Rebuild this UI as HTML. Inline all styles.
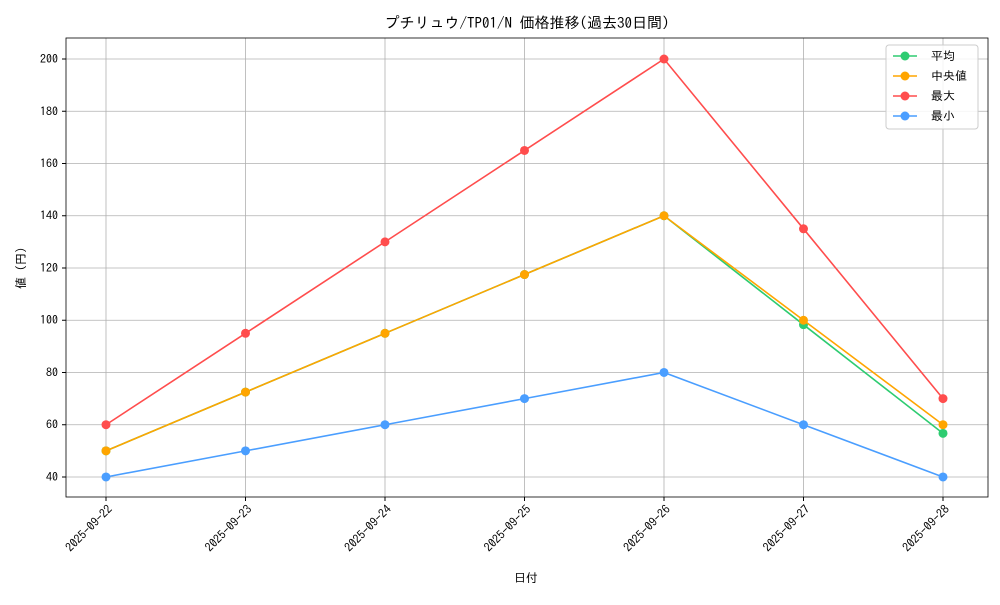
<!DOCTYPE html>
<html><head><meta charset="utf-8">
<style>
body{margin:0;background:#fff;}
svg text{font-family:"IPAGothic","Noto Sans CJK JP",sans-serif;fill:#000;}
</style></head>
<body>
<svg id="chart" width="1000" height="600" viewBox="0 0 1000 600" xmlns="http://www.w3.org/2000/svg">
<rect width="1000" height="600" fill="#fff"/>
<text x="527" y="28" font-size="15" text-anchor="middle">プチリュウ/TP01/N 価格推移(過去30日間)</text>
<g id="grid"></g>
<g id="series"></g>
<rect x="66" y="38" width="922" height="459" fill="none" stroke="#000" stroke-width="0.8"/>
<g id="ticks"></g>
<text x="526" y="582" font-size="12" text-anchor="middle">日付</text>
<text transform="translate(25,268) rotate(-90)" font-size="12" text-anchor="middle">値 (円)</text>
<g id="legend"></g>
</svg>
<script>
const categories=["2025-09-22","2025-09-23","2025-09-24","2025-09-25","2025-09-26","2025-09-27","2025-09-28"];
const avgValues=[50,72.5,95,117.5,140,98.3,56.7];
const medianValues=[50,72.5,95,117.5,140,100,60];
const maxValues=[60,95,130,165,200,135,70];
const minValues=[40,50,60,70,80,60,40];
const yTicks=[40,60,80,100,120,140,160,180,200];
const seriesNames=["平均","中央値","最大","最小"];

const NS="http://www.w3.org/2000/svg";
const x0=106,x1=943;
function xScale(i){return x0+(x1-x0)*i/(categories.length-1);}
const yMin=32.34,yMax=208.04,pTop=38,pBot=497;
function yScale(v){return pBot-(v-yMin)/(yMax-yMin)*(pBot-pTop);}
function mk(tag,attrs,parent){const e=document.createElementNS(NS,tag);for(const k in attrs)e.setAttribute(k,attrs[k]);parent.appendChild(e);return e;}
const grid=document.getElementById('grid'),ticks=document.getElementById('ticks'),series=document.getElementById('series');
categories.forEach((c,i)=>{
  const x=xScale(i);
  const g=mk('line',{x1:x,x2:x,y1:pTop,y2:pBot,stroke:'#b0b0b0','stroke-width':0.8},grid);
  
  
  const t=mk('line',{x1:x,x2:x,y1:pBot,y2:pBot+4,stroke:'#000'},ticks);
  
  
  const l=mk('text',{transform:`translate(${x+7},${pBot+13}) rotate(-45)`,'font-size':12,'text-anchor':'end'},ticks);
  l.textContent=c;
  
  
});
yTicks.forEach(v=>{
  const y=yScale(v);
  const g=mk('line',{x1:66,x2:988,y1:y,y2:y,stroke:'#b0b0b0','stroke-width':0.8},grid);
  
  
  const t=mk('line',{x1:62,x2:66,y1:y,y2:y,stroke:'#000'},ticks);
  
  
  const l=mk('text',{x:58,y:y+4,'font-size':12,'text-anchor':'end'},ticks);
  l.textContent=v;
  
  
});
const data=[avgValues,medianValues,maxValues,minValues];
const colors=["#2ecc71","#ffa500","#ff4d4d","#4a9eff"];
const keys=["avg","median","max","min"];
data.forEach((vals,s)=>{
  const pts=vals.map((v,i)=>xScale(i)+','+yScale(v)).join(' ');
  const pl=mk('polyline',{points:pts,fill:'none',stroke:colors[s],'stroke-width':1.6},series);
  
  
  vals.forEach((v,i)=>{
    const c=mk('circle',{cx:xScale(i),cy:yScale(v),r:4.5,fill:colors[s]},series);
    
    
  });
});
const lg=document.getElementById('legend');
const box=mk('rect',{x:886,y:45,width:92,height:84,rx:3,fill:'#fff','fill-opacity':0.85,stroke:'#ccc'},lg);


seriesNames.forEach((n,s)=>{
  const y=56+s*20;
  const g=mk('g',{},lg);
  
  
  mk('line',{x1:893,x2:917,y1:y,y2:y,stroke:colors[s],'stroke-width':1.6},g);
  mk('circle',{cx:905,cy:y,r:4.5,fill:colors[s]},g);
  const t=mk('text',{x:931,y:y+4,'font-size':12},g);
  t.textContent=n;
});
</script>
</body></html>
